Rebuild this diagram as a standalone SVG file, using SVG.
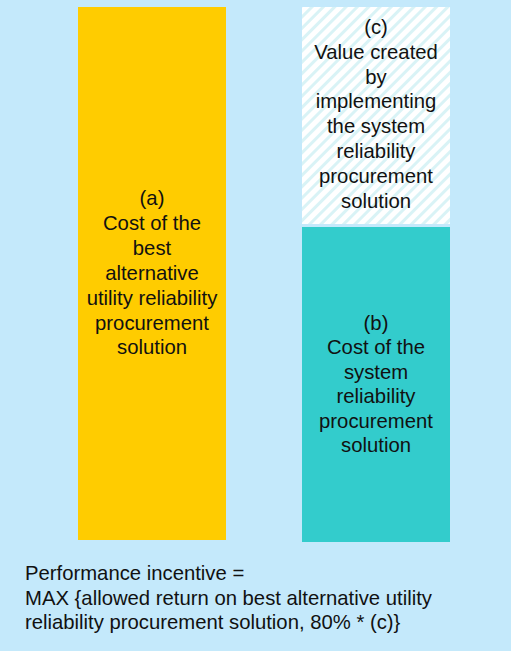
<svg xmlns="http://www.w3.org/2000/svg" width="511" height="651" viewBox="0 0 511 651">
<defs>
<pattern id="hatch" patternUnits="userSpaceOnUse" width="8" height="8" patternTransform="rotate(45)">
<rect width="8" height="8" fill="#ffffff"/>
<rect width="3" height="8" fill="#d9f3f6"/>
</pattern>
</defs>
<style>
text{font-family:"Liberation Sans",Arial,sans-serif;font-size:20.3px;fill:#111111}
.c{text-anchor:middle}
</style>
<rect width="511" height="651" fill="#c4e9fb"/>
<g id="node-a">
<rect x="78" y="7" width="148" height="533" fill="#ffcc00"/>
<text class="c" x="152" y="205">(a)</text>
<text class="c" x="152" y="230">Cost of the</text>
<text class="c" x="152" y="255">best</text>
<text class="c" x="152" y="280">alternative</text>
<text class="c" x="152" y="305">utility reliability</text>
<text class="c" x="152" y="330">procurement</text>
<text class="c" x="152" y="354">solution</text>
</g>
<g id="node-c">
<rect x="302" y="7" width="148" height="217" fill="url(#hatch)"/>
<text class="c" x="376" y="34">(c)</text>
<text class="c" x="376" y="59">Value created</text>
<text class="c" x="376" y="84">by</text>
<text class="c" x="376" y="108">implementing</text>
<text class="c" x="376" y="133">the system</text>
<text class="c" x="376" y="158">reliability</text>
<text class="c" x="376" y="183">procurement</text>
<text class="c" x="376" y="208">solution</text>
</g>
<g id="node-b">
<rect x="302" y="227" width="148" height="315" fill="#33cccc"/>
<text class="c" x="376" y="330">(b)</text>
<text class="c" x="376" y="354">Cost of the</text>
<text class="c" x="376" y="379">system</text>
<text class="c" x="376" y="403">reliability</text>
<text class="c" x="376" y="428">procurement</text>
<text class="c" x="376" y="452">solution</text>
</g>
<g id="connectors"/>
<g id="formula">
<text x="25" y="580">Performance incentive =</text>
<text x="25" y="605">MAX {allowed return on best alternative utility</text>
<text x="25" y="629">reliability procurement solution, 80% * (c)}</text>
</g>
</svg>
